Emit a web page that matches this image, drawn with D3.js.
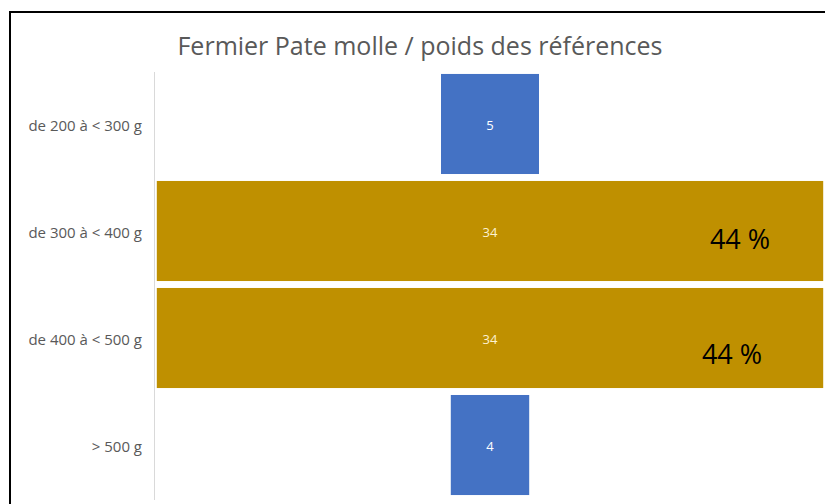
<!DOCTYPE html>
<html>
<head>
<meta charset="utf-8">
<script src="https://cdn.jsdelivr.net/npm/d3@7"></script>
<style>
  body { margin: 0; background: #fff; }
  text { font-family: "Open Sans", "Noto Sans", sans-serif; }
</style>
</head>
<body>
<div id="chart"></div>
<script>
// data
var categories = ["de 200 à < 300 g", "de 300 à < 400 g", "de 400 à < 500 g", "> 500 g"];
var values = [5, 34, 34, 4];
var barColors = ["#4472C4", "#BF9000", "#BF9000", "#4472C4"];
var pctLabels = ["", "44 %", "44 %", ""];

var width = 825;
var height = 504;

var svg = d3.select("#chart")
  .append("svg")
    .attr("width", width)
    .attr("height", height);

// outer frame (runs off the right and bottom)
svg.append("rect")
  .attr("x", 10)
  .attr("y", 12)
  .attr("width", 830)
  .attr("height", 510)
  .attr("fill", "none")
  .attr("stroke", "#000")
  .attr("stroke-width", 2);

// title
svg.append("text")
  .attr("x", 420)
  .attr("y", 55)
  .attr("text-anchor", "middle")
  .attr("font-size", 25)
  .attr("fill", "#595959")
  .text("Fermier Pate molle / poids des références");

var cx = 490;
var x = d3.scaleLinear().domain([0, 1]).range([0, 19.6]);

var y = d3.scaleBand()
  .domain(categories)
  .range([67, 502])
  .padding(0.065);

// axis line
svg.append("line")
  .attr("x1", 154.5).attr("x2", 154.5)
  .attr("y1", 72).attr("y2", 500)
  .attr("stroke", "#d9d9d9")
  .attr("stroke-width", 1);

// category labels
svg.append("g")
  .selectAll("text")
  .data(categories)
  .enter()
  .append("text")
    .attr("x", 142)
    .attr("y", function(d){ return y(d) + y.bandwidth() / 2 + 2; })
    .attr("dy", "0.35em")
    .attr("text-anchor", "end")
    .attr("font-size", 15)
    .attr("fill", "#595959")
    .text(function(d){ return d; });

// centered bars (funnel style)
svg.append("g")
  .selectAll("rect")
  .data(values)
  .enter()
  .append("rect")
    .attr("x", function(d){ return cx - x(d) / 2; })
    .attr("y", function(d, i){ return y(categories[i]); })
    .attr("width", function(d){ return x(d); })
    .attr("height", y.bandwidth())
    .attr("fill", function(d, i){ return barColors[i]; });

// value labels
svg.append("g")
  .selectAll("text")
  .data(values)
  .enter()
  .append("text")
    .attr("x", cx)
    .attr("y", function(d, i){ return y(categories[i]) + y.bandwidth() / 2 + 1; })
    .attr("dy", "0.35em")
    .attr("text-anchor", "middle")
    .attr("font-size", 13)
    .attr("fill", function(d){ return d > 10 ? "#fdf2d0" : "#fff"; })
    .text(function(d){ return d; });

// percentage text boxes, placed by hand in the original
var pctX = [0, 740, 732, 0];
var pctDy = [0, 9, 17, 0];
var pg = svg.append("g");
pctLabels.forEach(function(d, i){
  if (d === "") return;
  pg.append("text")
    .attr("x", pctX[i])
    .attr("y", y(categories[i]) + y.bandwidth() / 2 + pctDy[i])
    .attr("dy", "0.35em")
    .attr("text-anchor", "middle")
    .attr("font-size", 27)
    .attr("fill", "#000")
    .text(d);
});
</script>
</body>
</html>
